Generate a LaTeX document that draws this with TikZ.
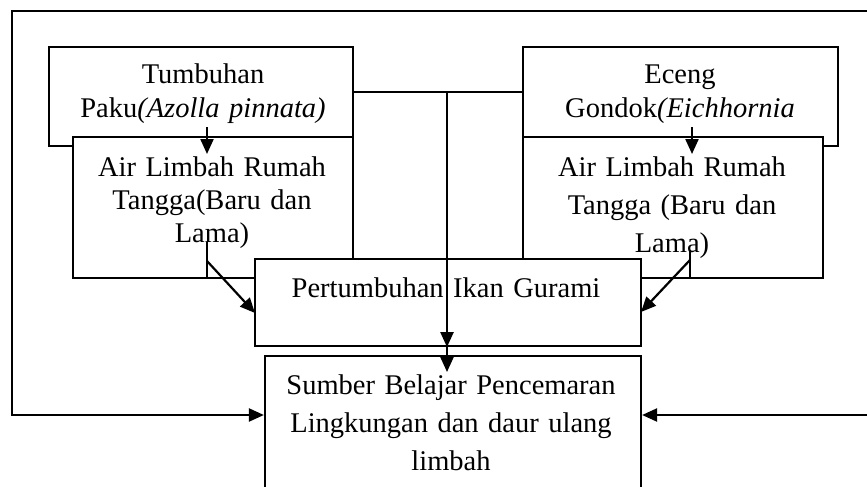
\documentclass[tikz,border=0pt]{standalone}
\usepackage{fontspec}
\setmainfont{Liberation Serif}
\usetikzlibrary{arrows.meta}
\begin{document}
\begin{tikzpicture}[x=1pt,y=-1pt,
  box/.style={draw=black,fill=white,line width=2.2pt,inner sep=0pt,rectangle},
  txt/.style={inner sep=0pt,anchor=base,align=center,text width=#1},
  ln/.style={line width=2.2pt},
  arr/.style={line width=2.2pt,-{Triangle[length=15pt,width=13pt]}},
  lab/.style={font=\fontsize{28.5}{#1}\selectfont}]
\clip (0,0) rectangle (867,487);
\fill[white] (0,0) rectangle (867,487);
% boxes
\node[box,minimum width=304pt,minimum height=99pt] (b1) at (201,96.5) {};
\node[txt=300pt,lab=35pt] (t1) at (203,83) {Tumbuhan\\Paku\textit{(Azolla pinnata)}};
\node[box,minimum width=315pt,minimum height=99pt] (b3) at (680.5,96.5) {};
\node[txt=310pt,lab=35pt] (t3) at (680,83) {Eceng\\Gondok\textit{(Eichhornia}};
\node[box,minimum width=280pt,minimum height=141pt] (b2) at (213,207.5) {};
\node[txt=276pt,lab=33pt] (t2) at (212,176) {Air Limbah Rumah\\Tangga(Baru dan\\Lama)};
\node[box,minimum width=300pt,minimum height=141pt] (b4) at (673,207.5) {};
\node[txt=296pt,lab=38pt] (t4) at (672,176) {Air Limbah Rumah\\Tangga (Baru dan\\Lama)};
\node[box,minimum width=386pt,minimum height=87pt] (b5) at (448,302.5) {};
\node[txt=380pt,lab=35pt] (t5) at (446,297) {Pertumbuhan Ikan Gurami};
\node[box,minimum width=376pt,minimum height=154pt] (b6) at (453,433) {};
\node[txt=370pt,lab=38pt] (t6) at (451,394) {Sumber Belajar Pencemaran\\Lingkungan dan daur ulang\\limbah};
% coordinates
\coordinate (tl) at (12,11);
\coordinate (tr) at (875,11);
\coordinate (bl) at (12,415);
\coordinate (br) at (875,415);
\coordinate (j1) at (447,92);
\coordinate (j2) at (447,372);
\coordinate (p1) at (207,127);
\coordinate (p2) at (207,154);
\coordinate (q1) at (692,127);
\coordinate (q2) at (692,154);
\coordinate (l1) at (207,242);
\coordinate (l2) at (207,261);
\coordinate (l3) at (255,313);
\coordinate (r1) at (690,250);
\coordinate (r2) at (690,260);
\coordinate (r3) at (641,312);
% connectors
\draw[ln] (b1.east |- j1) -- (b3.west |- j1);
\draw[arr] (j1) -- (b5.south -| j1);
\draw[arr] (b5.south -| j1) -- (j2);
\draw[arr] (p1) -- (p2);
\draw[arr] (q1) -- (q2);
\draw[ln] (l1) -- (l1 |- b2.south);
\draw[arr] (l2) -- (l3);
\draw[ln] (r1) -- (r1 |- b4.south);
\draw[arr] (r2) -- (r3);
\draw[arr] (tr) -- (tl) -- (bl) -- (b6.west |- bl);
\draw[arr] (tr) -- (br) -- (b6.east |- br);
\end{tikzpicture}
\end{document}
